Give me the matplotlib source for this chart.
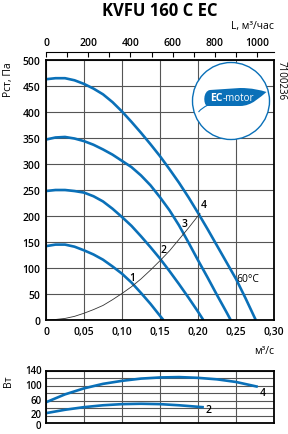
import matplotlib
matplotlib.use("Agg")
import matplotlib.pyplot as plt
from matplotlib.patches import Circle, PathPatch
from matplotlib.path import Path

plt.rcParams['font.family'] = ['Open Sans', 'DejaVu Sans']

# Pressure curves, q in m3/s, P in Pa
q1 = [0, 0.0125, 0.025, 0.0375, 0.05, 0.0625, 0.075, 0.0875, 0.10, 0.1125,
      0.125, 0.1375, 0.15, 0.1545]
p1 = [142, 145, 145, 141, 134, 126, 116, 103, 89, 72, 52, 31, 8, 0]
q2 = [0, 0.0125, 0.025, 0.0375, 0.05, 0.0625, 0.075, 0.0875, 0.10, 0.1125,
      0.125, 0.1375, 0.15, 0.1625, 0.175, 0.1875, 0.20, 0.207]
p2 = [248, 250, 250, 248, 245, 238, 228, 214, 198, 181, 161, 140, 118, 94,
      69, 43, 16, 0]
q3 = [0, 0.0125, 0.025, 0.0375, 0.05, 0.0625, 0.075, 0.0875, 0.10, 0.1125,
      0.125, 0.1375, 0.15, 0.1625, 0.175, 0.1875, 0.20, 0.2125, 0.225, 0.2375,
      0.243]
p3 = [347, 351, 352, 349, 344, 337, 328, 318, 306, 294, 278, 259, 236, 211,
      182, 149, 115, 82, 48, 15, 0]
q4 = [0, 0.0125, 0.025, 0.0375, 0.05, 0.0625, 0.075, 0.0875, 0.10, 0.1125,
      0.125, 0.1375, 0.15, 0.1625, 0.175, 0.1875, 0.20, 0.2125, 0.225, 0.2375,
      0.25, 0.2625, 0.276]
p4 = [463, 465, 465, 461, 454, 445, 434, 419, 401, 381, 360, 338, 315, 290,
      264, 236, 206, 175, 143, 111, 79, 42, 0]
curves = [(q1, p1), (q2, p2), (q3, p3), (q4, p4)]

# system curve
qs = [0, 0.0125, 0.025, 0.0375, 0.05, 0.0625, 0.075, 0.0875, 0.10, 0.1125,
      0.125, 0.1375, 0.15, 0.1625, 0.175, 0.1875, 0.2026]
ps = [0, 1, 3, 7, 13, 20, 28, 39, 51, 64, 79, 96, 114, 133, 155, 177, 205]

# Power, W
qw4 = [0, 0.025, 0.05, 0.075, 0.10, 0.125, 0.15, 0.175, 0.20, 0.225, 0.25, 0.277]
w4 = [56, 77, 93, 105, 113, 119, 122, 123, 121, 117, 110, 98]
qw2 = [0, 0.025, 0.05, 0.075, 0.10, 0.125, 0.15, 0.175, 0.206]
w2 = [27, 36, 43, 48, 51, 52, 51, 48, 43]

xticks = [0, 0.05, 0.10, 0.15, 0.20, 0.25, 0.30]
xlabels = ['0', '0,05', '0,10', '0,15', '0,20', '0,25', '0,30']
yticks = [0, 50, 100, 150, 200, 250, 300, 350, 400, 450, 500]
wticks = [0, 20, 40, 60, 80, 100, 120, 140]
wlabel_vals = [0, 20, 60, 100, 140]
lticks = [0, 200, 400, 600, 800, 1000]

blue = '#0a70b8'
grid = '#555555'

W, H = 288, 435
fig = plt.figure(figsize=(W / 100, H / 100), dpi=100)
ax = fig.add_axes([46 / W, 1 - 321 / H, 228 / W, 260 / H])
axw = fig.add_axes([46 / W, 1 - 424.3 / H, 228 / W, 52.6 / H])

for a in (ax, axw):
    a.set_xlim(0, 0.30)
    a.set_xticks(xticks)
    a.grid(True, color=grid, linewidth=0.8)
    a.set_axisbelow(True)
    a.tick_params(length=0, labelsize=7.5, pad=4)
    for s in a.spines.values():
        s.set_linewidth(1.3)
        s.set_color('black')

ax.set_ylim(0, 500)
ax.set_yticks(yticks)
ax.set_xticklabels(xlabels, fontweight='semibold')
ax.set_yticklabels([str(v) for v in yticks], fontweight='semibold')

for q, p in curves:
    ax.plot(q, p, color=blue, linewidth=1.9, solid_capstyle='butt')
ax.plot(qs, ps, color='#333333', linewidth=0.6)

lbl = dict(fontsize=7.5, fontweight='semibold', ha='center', va='center')
ax.text(0.114, 82, '1', **lbl)
ax.text(0.155, 135, '2', **lbl)
ax.text(0.182, 185, '3', **lbl)
ax.text(0.207, 223, '4', **lbl)
ax.text(0.25, 79, '60°C', fontsize=7.5, ha='left', va='center')

# top axis in m3/h
sec = ax.secondary_xaxis('top', functions=(lambda q: q * 3600, lambda l: l / 3600))
sec.set_xticks(lticks)
sec.set_xticks(range(100, 1100, 200), minor=True)
sec.spines['top'].set_position(('outward', 5.8))
sec.spines['top'].set_linewidth(0.8)
sec.tick_params(which='both', direction='in', length=3.5, width=0.8, labelsize=7.5, pad=3)
for lab in sec.get_xticklabels():
    lab.set_fontweight('semibold')

# power
axw.set_ylim(0, 140)
axw.set_yticks(wticks)
axw.set_yticklabels([])
axw.set_xticklabels([])
axw.plot(qw4, w4, color=blue, linewidth=1.9)
axw.plot(qw2, w2, color=blue, linewidth=1.9)
axw.text(0.285, 83, '4', **lbl)
axw.text(0.214, 37, '2', **lbl)
ytr = axw.get_yaxis_transform()
nudge = {0: -5, 20: 24}
for v in wlabel_vals:
    axw.text(-0.02, nudge.get(v, v), str(v), transform=ytr, fontsize=7,
             fontweight='semibold', ha='right', va='center')

# texts
fig.text(159.7 / W, 1 - 11 / H, 'KVFU 160 C EC', fontsize=12, fontweight='bold',
         ha='center', va='center')
fig.text(274 / W, 1 - 27 / H, 'L, м³/час', fontsize=7.5, ha='right', va='center')
fig.text(274 / W, 1 - 352 / H, 'м³/с', fontsize=7.5, ha='right', va='center')
fig.text(9 / W, 1 - 80 / H, 'Pст, Па', fontsize=7.5, rotation=90, ha='center', va='center')
fig.text(9 / W, 1 - 381 / H, 'Вт', fontsize=7.5, rotation=90, ha='center', va='center')
fig.text(281 / W, 1 - 81 / H, '7100236', fontsize=7, rotation=-90, ha='center', va='center')

# EC-motor logo
tr = fig.dpi_scale_trans
ax.add_patch(Circle((2.31, 3.33), 0.385, transform=tr, facecolor='white',
                    edgecolor=blue, linewidth=1.0, zorder=3, clip_on=False))
verts = [(2.07, 3.28), (2.03, 3.30), (2.03, 3.43), (2.10, 3.44),
         (2.40, 3.46), (2.52, 3.46), (2.60, 3.44), (2.665, 3.42),
         (2.60, 3.37), (2.52, 3.28), (2.40, 3.28), (2.07, 3.28), (2.07, 3.28)]
codes = [Path.MOVETO, Path.CURVE4, Path.CURVE4, Path.CURVE4,
         Path.LINETO, Path.CURVE4, Path.CURVE4, Path.CURVE4,
         Path.CURVE4, Path.CURVE4, Path.CURVE4, Path.LINETO, Path.CLOSEPOLY]
ax.add_patch(PathPatch(Path(verts, codes), transform=tr, facecolor=blue,
                       edgecolor='none', zorder=4, clip_on=False))
stem = Path([(1.985, 3.22), (2.01, 3.25), (2.04, 3.27), (2.08, 3.29)],
            [Path.MOVETO, Path.CURVE4, Path.CURVE4, Path.CURVE4])
ax.add_patch(PathPatch(stem, transform=tr, facecolor='none', edgecolor=blue,
                       linewidth=0.8, zorder=4, clip_on=False))
fig.text(2.227, 3.365, 'EC', transform=tr, fontsize=7.5, fontweight='bold',
         color='white', ha='right', va='center', zorder=5)
fig.text(2.227, 3.365, '-motor', transform=tr, fontsize=7,
         color='white', ha='left', va='center', zorder=5)

fig.savefig('out.png', dpi=100)
